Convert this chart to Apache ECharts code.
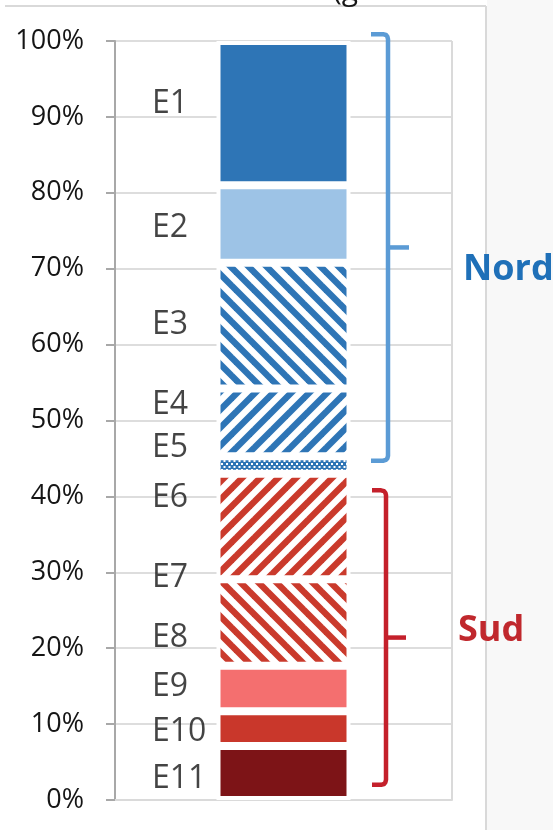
<!DOCTYPE html>
<html>
<head>
<meta charset="utf-8">
<script src="https://cdn.jsdelivr.net/npm/echarts@6/dist/echarts.min.js"></script>
<style>
html,body{margin:0;padding:0;background:#fff;}
#c{width:553px;height:830px;}
</style>
</head>
<body>
<div id="c"></div>
<script>
// ---- data ----
const categories = ['Total'];
const segmentNames = ['E1','E2','E3','E4','E5','E6','E7','E8','E9','E10','E11'];
const segmentValues = [19.0, 10.2, 16.6, 8.9, 2.3, 13.9, 0, 11.4, 6.0, 4.6, 7.1];
const labelAnchors = [92.1, 75.8, 63.0, 52.4, 46.8, 40.2, 29.6, 21.7, 15.3, 9.4, 3.2];
const yTicks = [0, 100, 10];  // min, max, interval
const groupNames = ['Nord', 'Sud'];
const groupRanges = [[44.7, 100.9], [2.0, 40.8]];

// ---- styles ----
const BLUE = '#2E75B6', RED = '#CA3A2C';
function stripeTile(color, dir) {
  const P = 18, c = document.createElement('canvas');
  c.width = P; c.height = P;
  const g = c.getContext('2d');
  g.fillStyle = '#fff'; g.fillRect(0, 0, P, P);
  g.strokeStyle = color; g.lineWidth = 6.4; g.lineCap = 'butt';
  for (let k = -2; k <= 2; k++) {
    g.beginPath();
    if (dir === 'down') { g.moveTo(-P, -P + k * P); g.lineTo(2 * P, 2 * P + k * P); }
    else { g.moveTo(-P, 2 * P + k * P); g.lineTo(2 * P, -P + k * P); }
    g.stroke();
  }
  return { image: c, repeat: 'repeat' };
}
function dotTile(color) {
  const c = document.createElement('canvas');
  c.width = 10; c.height = 6;
  const g = c.getContext('2d');
  g.fillStyle = color; g.fillRect(0, 0, 10, 6);
  g.fillStyle = '#fff';
  g.fillRect(1, 1, 2, 2); g.fillRect(6, 1, 2, 2);
  g.fillRect(3.5, 4, 2, 2); g.fillRect(8.5, 4, 2, 2); g.fillRect(-1.5, 4, 2, 2);
  return { image: c, repeat: 'repeat' };
}
const fills = [
  BLUE, '#9DC3E6', stripeTile(BLUE, 'down'), stripeTile(BLUE, 'up'), dotTile(BLUE),
  stripeTile(RED, 'up'), RED, stripeTile(RED, 'down'), '#F46F6F', '#C9372B', '#7D1417'
];
const groupColors = ['#5B9BD5', '#C4202B'];
const groupTextColors = ['#1F70B8', '#C0282D'];

const chart = echarts.init(document.getElementById('c'), null, { renderer: 'canvas' });
const FONT = '"Open Sans", "Liberation Sans", sans-serif';
const TXT = '#151515';

const series = [];
for (let i = segmentNames.length - 1; i >= 0; i--) {
  series.push({
    type: 'bar', name: segmentNames[i], stack: 'total', barWidth: 134,
    data: [segmentValues[i]],
    itemStyle: { color: fills[i], borderColor: '#fff', borderWidth: 4 },
    silent: true
  });
}
series.push({
  type: 'scatter', symbolSize: 0, silent: true, z: 10,
  data: labelAnchors.map((v, i) => ({ name: segmentNames[i], value: [categories[0], v] })),
  label: {
    show: true, position: 'inside', align: 'left', verticalAlign: 'middle',
    offset: [-131.5, 3], formatter: p => p.name,
    fontFamily: FONT, fontSize: 32, color: TXT
  }
});

chart.setOption({
  animation: false,
  backgroundColor: '#fff',
  grid: { left: 115, right: 101, top: 41, bottom: 30, containLabel: false },
  xAxis: {
    type: 'category', data: categories,
    axisLine: { show: true, lineStyle: { color: '#DADADA', width: 2 } },
    axisTick: { show: false }, axisLabel: { show: false },
    splitLine: { show: true, lineStyle: { color: '#DADADA', width: 2 } }
  },
  yAxis: {
    type: 'value', min: yTicks[0], max: yTicks[1], interval: yTicks[2],
    axisLine: { show: true, lineStyle: { color: '#A8A8A8', width: 2 } },
    axisTick: { show: true, length: 9, lineStyle: { color: '#A8A8A8', width: 2 } },
    axisLabel: { formatter: '{value}%', fontFamily: FONT, fontSize: 27, color: TXT, margin: 31 },
    splitLine: { show: true, lineStyle: { color: '#DDDDDD', width: 2 } }
  },
  series: series
});

// annotations: braces placed from the y scale
function py(v) { return chart.convertToPixel({ yAxisIndex: 0 }, v); }
const braceX = [[371, 388, 409], [372, 386, 406]];
const textX = [463, 458];
const graphics = [
  { type: 'rect', shape: { x: 487, y: 0, width: 66, height: 830 }, style: { fill: '#F8F8F8' }, silent: true, z: -1 },
  { type: 'line', shape: { x1: 486, y1: 6, x2: 486, y2: 830 }, style: { stroke: '#D9D9D9', lineWidth: 2 }, silent: true },
  { type: 'line', shape: { x1: 5, y1: 6, x2: 486, y2: 6 }, style: { stroke: '#D9D9D9', lineWidth: 2 }, silent: true },
  { type: 'text', x: 333, y: 6, style: { text: '(g', font: '30px ' + FONT, fill: TXT, verticalAlign: 'bottom' }, silent: true }
];
groupRanges.forEach((r, i) => {
  const yb = py(r[0]), yt = py(r[1]), ym = (yb + yt) / 2;
  const [x0, xv, xt] = braceX[i];
  const pts = [
    [x0, yt], [xv - 5, yt], [xv - 2, yt + 0.8], [xv - 0.6, yt + 2.5], [xv, yt + 5],
    [xv, yb - 5], [xv - 0.6, yb - 2.5], [xv - 2, yb - 0.8], [xv - 5, yb], [x0, yb]
  ];
  graphics.push({ type: 'polyline', shape: { points: pts }, style: { stroke: groupColors[i], lineWidth: 4.5, fill: null, lineJoin: 'round' }, silent: true });
  graphics.push({ type: 'line', shape: { x1: xv, y1: ym, x2: xt, y2: ym }, style: { stroke: groupColors[i], lineWidth: 4.5 }, silent: true });
  graphics.push({ type: 'text', x: textX[i], y: ym + (i === 0 ? 22 : -7), style: { text: groupNames[i], font: 'bold 36px ' + FONT, fill: groupTextColors[i], verticalAlign: 'middle' }, silent: true });
});
chart.setOption({ graphic: graphics });
</script>
</body>
</html>
